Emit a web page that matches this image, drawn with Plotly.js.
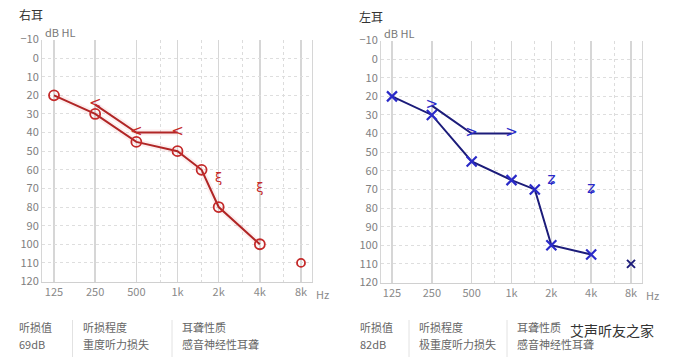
<!DOCTYPE html>
<html>
<head>
<meta charset="utf-8">
<script src="https://cdn.plot.ly/plotly-3.0.1.min.js"></script>
<style>html,body{margin:0;padding:0;background:#fff;}#chart{width:676px;height:362px;}</style>
</head>
<body>
<div id="chart"></div>
<script>
// ---- data ----
const freqs = [125, 250, 500, 1000, 1500, 2000, 4000];
const tickFreqs = [125, 250, 500, 1000, 2000, 4000, 8000];
const tickLabels = ['125', '250', '500', '1k', '2k', '4k', '8k'];
const minorFreqs = [750, 1500, 3000, 6000];
const dbTicks = [-10, 0, 10, 20, 30, 40, 50, 60, 70, 80, 90, 100, 110, 120];

// right ear (red)
const rightAir = [20, 30, 45, 50, 60, 80, 100];
const rightBoneFreqs = [250, 500, 1000];
const rightBone = [25, 40, 40];
const rightBoneNRFreqs = [2000, 4000];
const rightBoneNR = [65, 70];
const rightAirNRFreqs = [8000];
const rightAirNR = [110];

// left ear (blue)
const leftAir = [20, 30, 55, 65, 70, 100, 105];
const leftBoneFreqs = [250, 500, 1000];
const leftBone = [25, 40, 40];
const leftBoneNRFreqs = [2000, 4000];
const leftBoneNR = [65, 70];
const leftAirNRFreqs = [8000];
const leftAirNR = [110];

// summary
const rightSummary = ['听损值', '69dB', '听损程度', '重度听力损失', '耳聋性质', '感音神经性耳聋'];
const leftSummary = ['听损值', '82dB', '听损程度', '极重度听力损失', '耳聋性质', '感音神经性耳聋'];

const RED = '#c42a2a', REDL = '#b02525';
const BLUE = '#2a2ac8', BLUEL = '#1c1c7a';
const FONT = '"Noto Sans CJK SC", "Noto Sans", sans-serif';

const traces = [
  // right ear glow
  {x: freqs, y: rightAir, xaxis: 'x', yaxis: 'y', mode: 'lines', line: {color: 'rgba(230,90,90,0.10)', width: 6}, hoverinfo: 'skip'},
  {x: rightBoneFreqs, y: rightBone, xaxis: 'x', yaxis: 'y', mode: 'lines', line: {color: 'rgba(230,90,90,0.10)', width: 6}, hoverinfo: 'skip'},
  {x: freqs, y: rightAir, xaxis: 'x', yaxis: 'y', mode: 'lines+markers',
   line: {color: REDL, width: 2}, marker: {symbol: 'circle-open', size: 10, color: RED, line: {width: 1.8, color: RED}}},
  {x: rightBoneFreqs, y: rightBone, xaxis: 'x', yaxis: 'y', mode: 'lines+text',
   line: {color: REDL, width: 2}, text: rightBone.map(() => '<'), textposition: 'middle center',
   textfont: {color: RED, size: 15, family: 'DejaVu Sans'}},
  {x: rightBoneNRFreqs, y: rightBoneNR, xaxis: 'x', yaxis: 'y', mode: 'text',
   text: rightBoneNR.map(() => 'ξ'), textposition: 'middle center', textfont: {color: RED, size: 13, family: 'DejaVu Sans'}},
  {x: rightAirNRFreqs, y: rightAirNR, xaxis: 'x', yaxis: 'y', mode: 'markers',
   marker: {symbol: 'circle-open', size: 8, color: RED, line: {width: 1.8, color: RED}}},
  // left ear
  {x: freqs, y: leftAir, xaxis: 'x2', yaxis: 'y2', mode: 'lines+markers',
   line: {color: BLUEL, width: 2}, marker: {symbol: 'x-thin-open', size: 10, color: BLUE, line: {width: 2.2, color: BLUE}}},
  {x: leftBoneFreqs, y: leftBone, xaxis: 'x2', yaxis: 'y2', mode: 'lines+text',
   line: {color: BLUEL, width: 2}, text: leftBone.map(() => '>'), textposition: 'middle center',
   textfont: {color: BLUE, size: 15, family: 'DejaVu Sans'}},
  {x: leftBoneNRFreqs, y: leftBoneNR, xaxis: 'x2', yaxis: 'y2', mode: 'text',
   text: leftBoneNR.map(() => 'ʑ'), textposition: 'middle center', textfont: {color: BLUE, size: 16, family: 'DejaVu Sans'}},
  {x: leftAirNRFreqs, y: leftAirNR, xaxis: 'x2', yaxis: 'y2', mode: 'markers',
   marker: {symbol: 'x-thin-open', size: 8, color: BLUEL, line: {width: 2, color: BLUEL}}}
];

function xax(domain, range, anchor) {
  return {
    type: 'log', domain: domain, range: range, anchor: anchor,
    tickmode: 'array', tickvals: tickFreqs, ticktext: tickLabels,
    showgrid: true, gridcolor: '#d6d6d6', gridwidth: 1.5,
    minor: {tickmode: 'array', tickvals: minorFreqs, showgrid: true, gridcolor: '#dcdcdc', griddash: 'dot', gridwidth: 1, ticks: ''},
    showline: true, linecolor: '#d0d0d0', linewidth: 1, zeroline: false, ticks: '',
    tickfont: {size: 11, color: '#8a8a8a', family: FONT}, fixedrange: true
  };
}
function yax(domain, anchor) {
  return {
    domain: domain, anchor: anchor, range: [120, -10],
    tickmode: 'array', tickvals: dbTicks,
    showgrid: true, gridcolor: '#dedede', griddash: 'dot', gridwidth: 1,
    showline: true, mirror: true, linecolor: '#d6d6d6', linewidth: 1, zeroline: false, ticks: '',
    tickfont: {size: 11, color: '#808080', family: FONT}, fixedrange: true
  };
}

const W = 676, H = 362;
const oct = Math.log10(2);
const layout = {
  width: W, height: H, margin: {l: 0, r: 0, t: 0, b: 0},
  paper_bgcolor: '#fff', plot_bgcolor: '#fff', showlegend: false,
  font: {family: FONT},
  xaxis: xax([42 / W, 312 / W], [Math.log10(125) - 0.2915 * oct, Math.log10(8000) + 0.267 * oct], 'y'),
  yaxis: yax([1 - 281.5 / H, 1 - 39.5 / H], 'x'),
  xaxis2: xax([381 / W, 642 / W], [Math.log10(125) - 0.276 * oct, Math.log10(8000) + 0.276 * oct], 'y2'),
  yaxis2: yax([1 - 282.5 / H, 1 - 40.5 / H], 'x2'),
  annotations: [],
  shapes: []
};

function ann(text, px, py, opts) {
  layout.annotations.push(Object.assign({
    text: text, xref: 'paper', yref: 'paper', x: px / W, y: 1 - py / H,
    xanchor: 'left', yanchor: 'middle', showarrow: false,
    font: {size: 11, color: '#666', family: FONT}
  }, opts || {}));
}
ann('右耳', 17, 15, {font: {size: 12, color: '#333', family: FONT}});
ann('左耳', 357, 16, {font: {size: 12, color: '#333', family: FONT}});
ann('dB HL', 43, 32, {font: {size: 11, color: '#777', family: FONT}});
ann('dB HL', 382, 33, {font: {size: 11, color: '#777', family: FONT}});
ann('Hz', 314, 294, {font: {size: 11, color: '#8a8a8a', family: FONT}});
ann('Hz', 644, 295, {font: {size: 11, color: '#8a8a8a', family: FONT}});

function summary(items, xs, seps) {
  for (let i = 0; i < 3; i++) {
    ann(items[2 * i], xs[i], 327, {font: {size: 11, color: '#666', family: FONT}});
    ann(items[2 * i + 1], xs[i], 344, {font: {size: 11, color: '#666', family: FONT}});
  }
  seps.forEach(sx => layout.shapes.push({type: 'line', xref: 'paper', yref: 'paper',
    x0: sx / W, x1: sx / W, y0: 1 - 320 / H, y1: 1 - 357 / H, line: {color: '#e2e2e2', width: 1}}));
}
summary(rightSummary, [17, 81, 180], [72.5, 172]);
summary(leftSummary, [358, 417, 515], [409, 507]);
ann('艾声听友之家', 568, 330, {font: {size: 14, color: '#333', family: FONT}});

Plotly.newPlot('chart', traces, layout, {staticPlot: true, displayModeBar: false});
</script>
</body>
</html>
